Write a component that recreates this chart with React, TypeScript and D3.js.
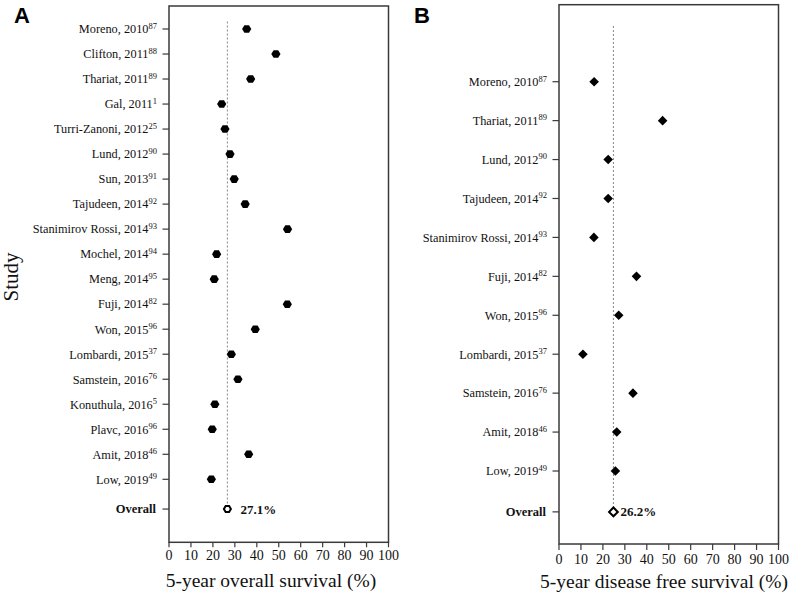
import React from 'react';
import * as d3 from 'd3';

// ---------- DATA ----------
const studiesA = [
  'Moreno, 2010', 'Clifton, 2011', 'Thariat, 2011', 'Gal, 2011', 'Turri-Zanoni, 2012',
  'Lund, 2012', 'Sun, 2013', 'Tajudeen, 2014', 'Stanimirov Rossi, 2014', 'Mochel, 2014',
  'Meng, 2014', 'Fuji, 2014', 'Won, 2015', 'Lombardi, 2015', 'Samstein, 2016',
  'Konuthula, 2016', 'Plavc, 2016', 'Amit, 2018', 'Low, 2019',
];
const refsA = ['87', '88', '89', '1', '25', '90', '91', '92', '93', '94', '95', '82', '96', '37', '76', '5', '96', '46', '49'];
const valuesA = [35.4, 48.7, 37.2, 24.0, 25.5, 27.8, 29.7, 34.7, 54.0, 21.7, 20.6, 53.9, 39.3, 28.4, 31.4, 20.9, 19.7, 36.3, 19.3];
const overallA = 26.6;
const overallLabelA = '27.1%';
const xTitleA = '5-year overall survival (%)';

const studiesB = [
  'Moreno, 2010', 'Thariat, 2011', 'Lund, 2012', 'Tajudeen, 2014', 'Stanimirov Rossi, 2014',
  'Fuji, 2014', 'Won, 2015', 'Lombardi, 2015', 'Samstein, 2016', 'Amit, 2018', 'Low, 2019',
];
const refsB = ['87', '89', '90', '92', '93', '82', '96', '37', '76', '46', '49'];
const valuesB = [16.0, 47.2, 22.4, 22.4, 15.9, 35.3, 27.2, 10.9, 33.7, 26.3, 25.7];
const overallB = 24.8;
const overallLabelB = '26.2%';
const xTitleB = '5-year disease free survival (%)';

const xTicks = [0, 10, 20, 30, 40, 50, 60, 70, 80, 90, 100];
const overallText = 'Overall';
const yTitle = 'Study';

// ---------- LAYOUT ----------
const SERIF = 'Liberation Serif, Tinos, DejaVu Serif, serif';
const SANS = 'Liberation Sans, Arial, sans-serif';

type PanelProps = {
  letter: string;
  letterX: number;
  studies: string[];
  refs: string[];
  values: number[];
  overall: number;
  overallLabel: string;
  xTitle: string;
  x0: number; x1: number; top: number; bottom: number;
  yFirst: number; yLast: number; overallIdx: number;
  lineTop: number;
  marker: 'hex' | 'diamond';
  labelGap: number;
  tickLen: number;
  tickLabelY: number;
  titleY: number;
  titleX: number;
};

const hexPath = (r: number, h: number) =>
  `M${-r},0L${-r / 2},${-h}L${r / 2},${-h}L${r},0L${r / 2},${h}L${-r / 2},${h}Z`;

function Panel(p: PanelProps) {
  const x = d3.scaleLinear().domain([0, 100]).range([p.x0, p.x1]);
  const n = p.studies.length;
  const y = d3.scaleLinear().domain([0, n - 1]).range([p.yFirst, p.yLast]);
  const yo = y(p.overallIdx);
  const filledD =
    p.marker === 'hex' ? hexPath(4.6, 3.8) : d3.symbol(d3.symbolSquare, 46)()!;
  const hollowD =
    p.marker === 'hex' ? hexPath(3.5, 3.0) : d3.symbol(d3.symbolSquare, 38)()!;
  const rot = p.marker === 'diamond' ? ' rotate(45)' : '';
  const yTickX0 = p.x0 - 6.5;
  const serif = { fontFamily: SERIF };
  return (
    <g>
      <text x={p.letterX} y={23} style={{ fontFamily: SANS }} fontWeight="bold" fontSize={22} fill="#000">
        {p.letter}
      </text>
      <rect x={p.x0} y={p.top} width={p.x1 - p.x0} height={p.bottom - p.top}
        fill="none" stroke="#3a3a3a" strokeWidth={1.5} />
      <line x1={x(p.overall)} x2={x(p.overall)} y1={p.lineTop} y2={yo}
        stroke="#888" strokeWidth={1} strokeDasharray="2,2" />
      {p.studies.map((s, i) => (
        <g key={s + i}>
          <line x1={yTickX0} x2={p.x0} y1={y(i)} y2={y(i)} stroke="#3a3a3a" strokeWidth={1.2} />
          <text x={p.x0 - p.labelGap} y={y(i)} dy="0.35em" textAnchor="end"
            style={serif} fontSize={12.3} fill="#111">
            {s}
            <tspan fontSize={8.5} dy={-4.5}>{p.refs[i]}</tspan>
          </text>
        </g>
      ))}
      <line x1={yTickX0} x2={p.x0} y1={yo} y2={yo} stroke="#3a3a3a" strokeWidth={1.2} />
      <text x={p.x0 - p.labelGap - 1} y={yo} dy="0.35em" textAnchor="end"
        style={serif} fontWeight="bold" fontSize={12.5} fill="#111">
        {overallText}
      </text>
      {p.values.map((v, i) => (
        <path key={i} d={filledD} transform={`translate(${x(v)},${y(i)})${rot}`} fill="#000" />
      ))}
      <path d={hollowD} transform={`translate(${x(p.overall)},${yo})${rot}`}
        fill="#fff" stroke="#000" strokeWidth={2} />
      <text x={x(p.overall) + (p.marker === 'hex' ? 13 : 7)} y={yo} dy="0.35em"
        style={serif} fontWeight="bold" fontSize={13} fill="#111">
        {p.overallLabel}
      </text>
      {xTicks.map((t) => (
        <g key={t}>
          <line x1={x(t)} x2={x(t)} y1={p.bottom} y2={p.bottom + p.tickLen}
            stroke="#3a3a3a" strokeWidth={1.2} />
          <text x={x(t)} y={p.tickLabelY} textAnchor="middle" style={serif}
            fontSize={14} fill="#111">
            {t}
          </text>
        </g>
      ))}
      <text x={p.titleX} y={p.titleY} textAnchor="middle" style={serif}
        fontSize={19.5} fill="#111">
        {p.xTitle}
      </text>
    </g>
  );
}

export default function App() {
  return (
    <svg width={791} height={595} viewBox="0 0 791 595"
      style={{ position: 'absolute', left: 0, top: 0, background: '#fff' }}>
      <rect width={791} height={595} fill="#fff" />
      <text transform="translate(18,277) rotate(-90)" textAnchor="middle"
        style={{ fontFamily: SERIF }} fontSize={21} fill="#111">
        {yTitle}
      </text>
      <Panel letter="A" letterX={14} studies={studiesA} refs={refsA} values={valuesA}
        overall={overallA} overallLabel={overallLabelA} xTitle={xTitleA}
        x0={169} x1={388.5} top={6} bottom={542.3}
        yFirst={29} yLast={479.3} overallIdx={19.19} lineTop={21.5}
        marker="hex" labelGap={12} tickLen={5} tickLabelY={560} titleY={587} titleX={271} />
      <Panel letter="B" letterX={414} studies={studiesB} refs={refsB} values={valuesB}
        overall={overallB} overallLabel={overallLabelB} xTitle={xTitleB}
        x0={559} x1={778.5} top={4.7} bottom={544}
        yFirst={81.7} yLast={471} overallIdx={11.05} lineTop={26}
        marker="diamond" labelGap={12} tickLen={6} tickLabelY={564} titleY={588} titleX={664} />
    </svg>
  );
}
